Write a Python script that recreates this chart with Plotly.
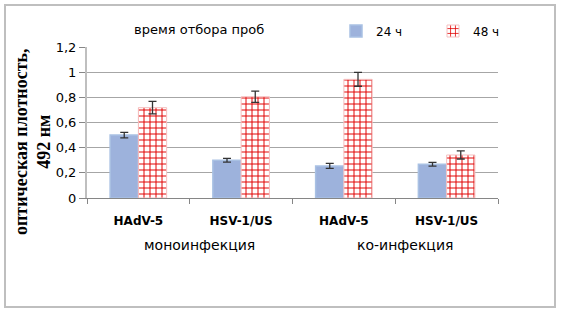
import plotly.graph_objects as go

categories = ["HAdV-5", "HSV-1/US", "HAdV-5 ", "HSV-1/US "]
cat_labels = ["<b>HAdV-5</b>", "<b>HSV-1/US</b>", "<b>HAdV-5</b>", "<b>HSV-1/US</b>"]
values_24 = [0.50, 0.30, 0.255, 0.268]
err_24 = [0.022, 0.015, 0.02, 0.015]
values_48 = [0.718, 0.805, 0.943, 0.342]
err_48 = [0.05, 0.045, 0.055, 0.032]
series_names = ["24 ч", "48 ч"]
group_labels = ["моноинфекция", "ко-инфекция"]
y_tickvals = [0, 0.2, 0.4, 0.6, 0.8, 1.0, 1.2]
y_ticktext = ["0", "0,2", "0,4", "0,6", "0,8", "1", "1,2"]

W, H = 562, 315
L, R, T, B = 87, 64, 47, 117
pw, ph = W - L - R, H - T - B

def px(x):
    return (x - L) / pw

def py(y):
    return (H - B - y) / ph

fig = go.Figure()
fig.add_trace(go.Bar(
    x=categories, y=values_24, name=series_names[0],
    marker=dict(color="white", line=dict(color="#a9c1e3", width=1.5),
                pattern=dict(shape=".", size=2, solidity=0.5,
                             fgcolor="#1f4fb0", bgcolor="white", fillmode="replace")),
    error_y=dict(type="data", array=err_24, color="#333333", thickness=1.3, width=4),
))
fig.add_trace(go.Bar(
    x=categories, y=values_48, name=series_names[1],
    marker=dict(color="white", line=dict(color="#f5c0c0", width=1),
                pattern=dict(shape="+", size=6, solidity=0.3,
                             fgcolor="#e00000", bgcolor="white", fillmode="replace")),
    error_y=dict(type="data", array=err_48, color="#333333", thickness=1.3, width=4),
))

fig.update_layout(
    width=W, height=H,
    margin=dict(l=L, r=R, t=T, b=B, autoexpand=False),
    paper_bgcolor="white", plot_bgcolor="white",
    barmode="group", bargap=0.45, bargroupgap=0,
    font=dict(family="DejaVu Sans", size=12, color="black"),
    showlegend=True,
    legend=dict(orientation="h", x=px(336), xanchor="left", y=py(31), yanchor="middle",
                entrywidth=52, entrywidthmode="pixels",
                font=dict(size=12, family="DejaVu Sans"), itemwidth=30,
                bgcolor="rgba(0,0,0,0)", tracegroupgap=0),
    xaxis=dict(type="category", tickmode="array", tickvals=categories, ticktext=cat_labels,
               tickson="boundaries", ticks="outside", ticklen=5, tickcolor="#868686",
               showline=True, linecolor="#868686", linewidth=1, automargin=False,
               ticklabelstandoff=12,
               tickfont=dict(size=12, family="DejaVu Sans"), showgrid=False),
    yaxis=dict(range=[0, 1.2], tickmode="array", tickvals=y_tickvals, ticktext=y_ticktext,
               ticks="outside", ticklen=6, tickcolor="#868686", automargin=False,
               showgrid=True, gridcolor="#a6a6a6", gridwidth=1,
               showline=True, linecolor="#bfbfbf", linewidth=2,
               tickfont=dict(size=13, family="DejaVu Sans"), zeroline=False),
)

# outer border
fig.add_shape(type="rect", xref="paper", yref="paper",
              x0=px(5), x1=px(555), y0=py(307), y1=py(5),
              line=dict(color="#bfbfbf", width=2), fillcolor="rgba(0,0,0,0)", layer="below")

# legend title
fig.add_annotation(text="время отбора проб", xref="paper", yref="paper",
                   x=px(199), y=py(29), xanchor="center", yanchor="middle",
                   showarrow=False, font=dict(size=13, family="DejaVu Sans"))

# y axis title
fig.add_annotation(text="<b>оптическая плотность,<br>492 нм</b>", xref="paper", yref="paper",
                   x=px(32), y=py(142), xanchor="center", yanchor="middle", textangle=-90,
                   showarrow=False, font=dict(size=18, family="Liberation Serif"))

# group labels
for i, g in enumerate(group_labels):
    fig.add_annotation(text=g, xref="x", yref="paper", x=2 * i + 0.5, xshift=10,
                       y=py(245), yanchor="middle", xanchor="center", showarrow=False,
                       font=dict(size=14, family="DejaVu Sans"))

fig.write_html("out.html", post_script="document.body.style.margin='0';",
               config={"displayModeBar": False})
